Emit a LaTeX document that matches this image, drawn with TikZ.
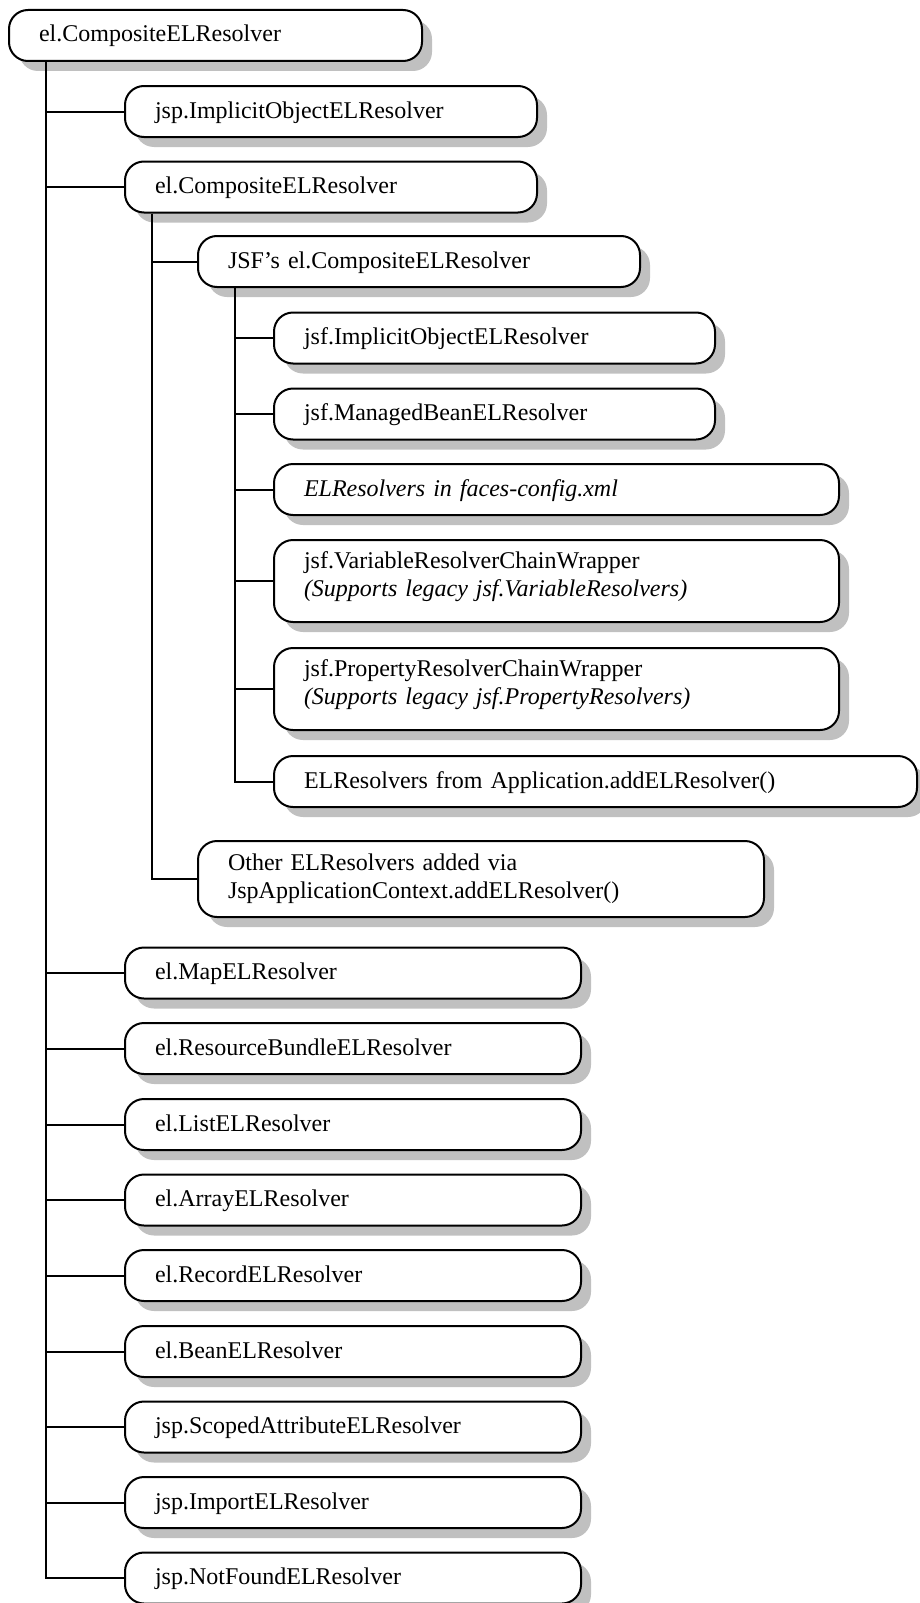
\documentclass[tikz,border=0pt]{standalone}
\usepackage{fontspec}
\setmainfont{Liberation Serif}[WordSpace=0.85]
\usetikzlibrary{shadows}
\definecolor{shadowgray}{HTML}{C0C0C0}
\tikzset{
	rbox/.style={draw, line width=2pt, rounded corners=19pt, fill=white, anchor=north west, inner xsep=30pt, inner ysep=0pt, align=left, font=\fontsize{24}{27.6}\selectfont, drop shadow={shadow xshift=10pt, shadow yshift=-10pt, fill=shadowgray, opacity=1}},
	oneline/.style={rbox, minimum height=51pt, text height=18pt, text depth=5pt},
	twoline/.style={rbox, minimum height=#1},
	branch/.style={line width=2pt},
}

\begin{document}
\begin{tikzpicture}[x=1pt, y=-1pt]
		\useasboundingbox (0,0) rectangle (920,1603);

		\node[oneline, text width=353pt] (root) at (8,9) {el.CompositeELResolver};

		\node[oneline, text width=352pt] (jspimplicit) at (124,85) {jsp.ImplicitObjectELResolver};
		\node[oneline, text width=352pt] (elcomposite) at (124,160.5) {el.CompositeELResolver};

		\node[oneline, text width=382pt] (jsfcomposite) at (197,235) {JSF’s el.CompositeELResolver};
		\node[oneline, text width=381pt] (jsfimplicit) at (273,311.5) {jsf.ImplicitObjectELResolver};
		\node[oneline, text width=381pt] (jsfbean) at (273,387.5) {jsf.ManagedBeanELResolver};
		\node[oneline, text width=505pt] (facesconfig) at (273,463) {\itshape ELResolvers in faces-config.xml};
		\node[twoline=82pt, text width=505pt, text depth=42pt] (varwrapper) at (273,539) {jsf.VariableResolverChainWrapper\\\itshape (Supports legacy jsf.VariableResolvers)};
		\node[twoline=82pt, text width=505pt, text depth=42pt] (propwrapper) at (273,647) {jsf.PropertyResolverChainWrapper\\\itshape (Supports legacy jsf.PropertyResolvers)};
		\node[oneline, text width=583pt] (appresolvers) at (273,755) {ELResolvers from Application.addELResolver()};

		\node[twoline=76pt, text width=506pt] (jspresolvers) at (197,840) {Other ELResolvers added via\\JspApplicationContext.addELResolver()};

		\node[oneline, text width=396pt] (elmap) at (124,946.5) {el.MapELResolver};
		\node[oneline, text width=396pt] (elbundle) at (124,1022) {el.ResourceBundleELResolver};
		\node[oneline, text width=396pt] (ellist) at (124,1098) {el.ListELResolver};
		\node[oneline, text width=396pt] (elarray) at (124,1173.5) {el.ArrayELResolver};
		\node[oneline, text width=396pt] (elrecord) at (124,1249) {el.RecordELResolver};
		\node[oneline, text width=396pt] (elbean) at (124,1325) {el.BeanELResolver};
		\node[oneline, text width=396pt] (jspscoped) at (124,1400.5) {jsp.ScopedAttributeELResolver};
		\node[oneline, text width=396pt] (jspimport) at (124,1476) {jsp.ImportELResolver};
		\node[oneline, text width=396pt] (jspnotfound) at (124,1551.5) {jsp.NotFoundELResolver};

		\draw[branch] ([xshift=38pt]root.south west) |- (jspimplicit.west);
		\draw[branch] ([xshift=38pt]root.south west) |- (elcomposite.west);
		\draw[branch] ([xshift=38pt]root.south west) |- (elmap.west);
		\draw[branch] ([xshift=38pt]root.south west) |- (elbundle.west);
		\draw[branch] ([xshift=38pt]root.south west) |- (ellist.west);
		\draw[branch] ([xshift=38pt]root.south west) |- (elarray.west);
		\draw[branch] ([xshift=38pt]root.south west) |- (elrecord.west);
		\draw[branch] ([xshift=38pt]root.south west) |- (elbean.west);
		\draw[branch] ([xshift=38pt]root.south west) |- (jspscoped.west);
		\draw[branch] ([xshift=38pt]root.south west) |- (jspimport.west);
		\draw[branch] ([xshift=38pt]root.south west) |- (jspnotfound.west);

		\draw[branch] ([xshift=28pt]elcomposite.south west) |- (jsfcomposite.west);
		\draw[branch] ([xshift=28pt]elcomposite.south west) |- (jspresolvers.west);

		\draw[branch] ([xshift=38pt]jsfcomposite.south west) |- (jsfimplicit.west);
		\draw[branch] ([xshift=38pt]jsfcomposite.south west) |- (jsfbean.west);
		\draw[branch] ([xshift=38pt]jsfcomposite.south west) |- (facesconfig.west);
		\draw[branch] ([xshift=38pt]jsfcomposite.south west) |- (varwrapper.west);
		\draw[branch] ([xshift=38pt]jsfcomposite.south west) |- (propwrapper.west);
		\draw[branch] ([xshift=38pt]jsfcomposite.south west) |- (appresolvers.west);
	\end{tikzpicture}
\end{document}
